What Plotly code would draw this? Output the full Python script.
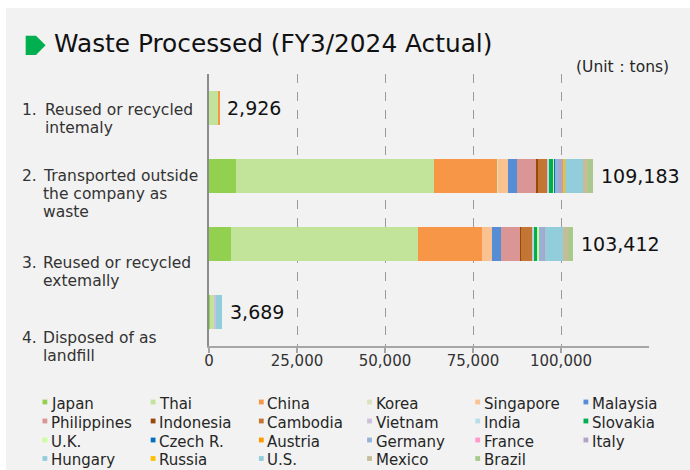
import plotly.graph_objects as go

# ---------------- data ----------------
CATEGORIES = [
    "1. Reused or recycled intemaly",
    "2. Transported outside the company as waste",
    "3. Reused or recycled extemally",
    "4. Disposed of as landfill",
]
CATEGORY_NUMBERS = ["1.", "2.", "3.", "4."]
CATEGORY_LINES = [
    ["Reused or recycled", "intemaly"],
    ["Transported outside", "the company as", "waste"],
    ["Reused or recycled", "extemally"],
    ["Disposed of as", "landfill"],
]

COUNTRIES = ["Japan", "Thai", "China", "Korea", "Singapore", "Malaysia",
             "Philippines", "Indonesia", "Cambodia", "Vietnam", "India", "Slovakia",
             "U.K.", "Czech R.", "Austria", "Germany", "France", "Italy",
             "Hungary", "Russia", "U.S.", "Mexico", "Brazil"]

# tons per category (1..4)
JAPAN = [0, 7670, 6160, 300]
THAI = [2750, 56173, 53342, 1200]
CHINA = [176, 18180, 18180, 0]
KOREA = [0, 150, 0, 0]
SINGAPORE = [0, 2650, 2650, 0]
MALAYSIA = [0, 2560, 2650, 0]
PHILIPPINES = [0, 5400, 5400, 0]
INDONESIA = [0, 660, 280, 0]
CAMBODIA = [0, 2840, 3200, 0]
VIETNAM = [0, 200, 200, 570]
INDIA = [0, 200, 200, 0]
SLOVAKIA = [0, 1140, 1140, 0]
UK = [0, 280, 480, 0]
CZECH = [0, 280, 0, 0]
AUSTRIA = [0, 0, 0, 0]
GERMANY = [0, 1140, 940, 0]
FRANCE = [0, 0, 0, 0]
ITALY = [0, 1140, 650, 0]
HUNGARY = [0, 0, 0, 0]
RUSSIA = [0, 570, 0, 0]
US = [0, 5110, 5020, 1619]
MEXICO = [0, 1420, 1420, 0]
BRAZIL = [0, 1420, 1500, 0]

SERIES = [JAPAN, THAI, CHINA, KOREA, SINGAPORE, MALAYSIA, PHILIPPINES, INDONESIA,
          CAMBODIA, VIETNAM, INDIA, SLOVAKIA, UK, CZECH, AUSTRIA, GERMANY, FRANCE,
          ITALY, HUNGARY, RUSSIA, US, MEXICO, BRAZIL]

X_TICKS = [0, 25000, 50000, 75000, 100000]

# ---------------- styles ----------------
COLORS = ["#92d050", "#c2e39a", "#f79646", "#d7e4bd", "#fac191", "#558ed5",
          "#d99694", "#984807", "#c37534", "#ccc1da", "#b7dee8", "#00b050",
          "#ccff99", "#0070c0", "#ff9900", "#95b3d7", "#ff99cc", "#b3a2c7",
          "#93cddd", "#ffc000", "#92cddc", "#c4bd97", "#a9c98c"]

FONT = "DejaVu Sans"
BG = "#f2f2f2"
W, H = 690, 470
L, R, T, B = 209, 41, 74, 124
PW, PH = W - L - R, H - T - B


def px(x):
    return (x - L) / PW


def py(y):
    return (H - B - y) / PH


fig = go.Figure()
for name, vals, col in zip(COUNTRIES, SERIES, COLORS):
    fig.add_trace(go.Bar(
        y=CATEGORIES, x=vals, name=name, orientation="h",
        marker=dict(color=col, line=dict(width=0)),
        showlegend=False,
    ))

totals = [sum(s[i] for s in SERIES) for i in range(len(CATEGORIES))]

annotations = []
shapes = []

# white outer border
shapes.append(dict(type="rect", xref="paper", yref="paper", x0=px(0), x1=px(W),
                   y0=py(0), y1=py(8), fillcolor="white", line=dict(width=0), layer="below"))
shapes.append(dict(type="rect", xref="paper", yref="paper", x0=px(0), x1=px(6),
                   y0=py(0), y1=py(H), fillcolor="white", line=dict(width=0), layer="below"))

# title marker (pentagon)
mx = [25.7, 36.0, 45.6, 36.0, 25.7]
my = [35.7, 35.7, 45.3, 55.0, 55.0]
path = "M " + " L ".join(f"{px(a):.5f},{py(b):.5f}" for a, b in zip(mx, my)) + " Z"
shapes.append(dict(type="path", xref="paper", yref="paper", path=path,
                   fillcolor="#00b050", line=dict(width=0)))

annotations.append(dict(text="Waste Processed (FY3/2024 Actual)", xref="paper", yref="paper",
                        x=px(52), y=py(44), xanchor="left", yanchor="middle", showarrow=False,
                        font=dict(family=FONT, size=24.8, color="#111111")))
annotations.append(dict(text="(Unit：tons)", xref="paper", yref="paper",
                        x=px(671), y=py(67), xanchor="right", yanchor="middle", showarrow=False,
                        font=dict(family=FONT, size=15.5, color="#262626")))

# data labels
for cat, tot in zip(CATEGORIES, totals):
    annotations.append(dict(text=f"{tot:,}", x=tot, y=cat, xref="x", yref="y",
                            xanchor="left", yanchor="middle", xshift=6, showarrow=False,
                            font=dict(family=FONT, size=19, color="#111111")))

# category labels
LABEL_OFFSETS = [2, 0, 19, 26]
TEXT_X = [43, 41, 41, 41]
LINE_GAP = 18
for i, cat in enumerate(CATEGORIES):
    annotations.append(dict(text=CATEGORY_NUMBERS[i], xref="paper", yref="y", x=px(20), y=cat,
                            xanchor="left", yanchor="middle", yshift=-LABEL_OFFSETS[i],
                            showarrow=False, font=dict(family=FONT, size=15.5, color="#333333")))
    for j, line in enumerate(CATEGORY_LINES[i]):
        annotations.append(dict(text=line, xref="paper", yref="y", x=px(TEXT_X[i]), y=cat,
                                xanchor="left", yanchor="middle",
                                yshift=-(LABEL_OFFSETS[i] + j * LINE_GAP),
                                showarrow=False, font=dict(family=FONT, size=15.5, color="#333333")))

# legend (manual)
ROW_Y = [403.5, 422.5, 441.5, 460]
COL_X0 = 42.5
COL_DX = 108.2
SQ = 4.8
for k, (name, col) in enumerate(zip(COUNTRIES, COLORS)):
    r, c = divmod(k, 6)
    x0 = COL_X0 + c * COL_DX
    yc = ROW_Y[r] - 1.5
    shapes.append(dict(type="rect", xref="paper", yref="paper",
                       x0=px(x0), x1=px(x0 + SQ), y0=py(yc + SQ / 2), y1=py(yc - SQ / 2),
                       fillcolor=col, line=dict(width=0)))
    annotations.append(dict(text=name, xref="paper", yref="paper", x=px(x0 + 7.5), y=py(ROW_Y[r]),
                            xanchor="left", yanchor="middle", showarrow=False, borderpad=0,
                            font=dict(family=FONT, size=15, color="#262626")))

fig.update_layout(
    width=W, height=H,
    margin=dict(l=L, r=R, t=T, b=B, pad=0),
    paper_bgcolor=BG, plot_bgcolor=BG,
    barmode="stack", bargap=0.49,
    font=dict(family=FONT, size=15, color="#333333"),
    showlegend=False,
    annotations=annotations, shapes=shapes,
    xaxis=dict(range=[0, 125000], tickvals=X_TICKS, tickformat=",d",
               showgrid=True, gridcolor="#9a9a9a", griddash="dash", gridwidth=1,
               zeroline=False, showline=True, linecolor="#a6a6a6", linewidth=2,
               ticks="outside", ticklen=5, tickcolor="#a6a6a6", tickwidth=1.5,
               ticklabelstandoff=-5,
               tickfont=dict(family=FONT, size=15, color="#333333")),
    yaxis=dict(type="category", autorange="reversed", showticklabels=False,
               showgrid=False, zeroline=False, showline=True, linecolor="#8c8c8c",
               linewidth=2, ticks=""),
)

fig.write_html("out.html")
